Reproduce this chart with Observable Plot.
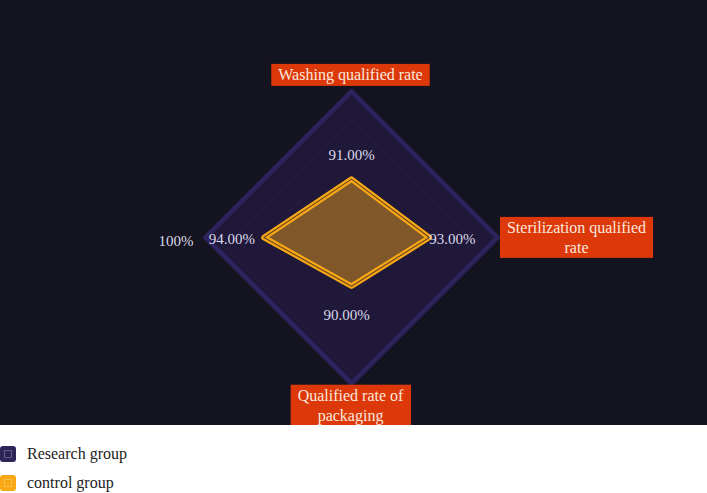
<!DOCTYPE html>
<html>
<head>
<meta charset="utf-8">
<script src="https://cdn.jsdelivr.net/npm/d3@7"></script>
<script src="https://cdn.jsdelivr.net/npm/@observablehq/plot@0.6"></script>
<style>
  html, body { margin: 0; padding: 0; background: #ffffff; }
  #chart { width: 707px; height: 425px; background: #13141f; overflow: hidden; }
  #chart svg, #chart text { font-family: "Liberation Serif", "DejaVu Serif", serif !important; }
  #legend { font-family: "Liberation Serif", "DejaVu Serif", serif; font-size: 16px; color: #222; padding-top: 14px; }
  .item { display: flex; align-items: center; height: 29px; }
  .sw { width: 16px; height: 16px; border-radius: 3px; margin-right: 11px; position: relative; }
  .sw::after { content: ""; position: absolute; left: 4px; top: 4px; width: 6px; height: 6px; border: 1px solid rgba(255,255,255,0.25); }
</style>
</head>
<body>
<div id="chart"></div>
<div id="legend"></div>
<script>
// ---- data ----
const indicators = ["Washing qualified rate", "Sterilization qualified rate", "Qualified rate of packaging", "100%"];
const indicatorLabels = ["Washing qualified rate", "Sterilization qualified\nrate", "Qualified rate of\npackaging", "100%"];
const seriesNames = ["Research group", "control group"];
const researchValues = [100, 100, 100, 100];
const controlValues = [91, 93, 90, 94];
const valueLabels = ["91.00%", "93.00%", "90.00%", "94.00%"];
const radialMin = 85;
const radialMax = 100;
const gridLevels = [0.2, 0.4, 0.6, 0.8];

// ---- geometry helpers (data -> unit radar coords) ----
const angle = i => (i / indicators.length) * 2 * Math.PI; // clockwise from top
const norm = v => (v - radialMin) / (radialMax - radialMin);
const px = (i, r) => r * Math.sin(angle(i));
const py = (i, r) => r * Math.cos(angle(i));

const research = indicators.map((k, i) => ({key: k, i, value: researchValues[i], series: seriesNames[0]}));
const control = indicators.map((k, i) => ({key: k, i, value: controlValues[i], label: valueLabels[i], series: seriesNames[1]}));
const grid = gridLevels.flatMap(l => indicators.map((k, i) => ({level: l, i})));
const axes = indicators.map((k, i) => ({key: k, i, label: indicatorLabels[i]}));

const R = 146, cx = 351, cy = 237;

const textStyle = {fontFamily: "Liberation Serif"};
const labelPlacement = [
  {dx: 0, dy: -24, textAnchor: "middle"},
  {dx: 0, dy: 2, textAnchor: "start"},
  {dx: -5, dy: 29, textAnchor: "middle"},
  {dx: -9, dy: 2, textAnchor: "end"}
];
const namePlacement = [
  {dx: -1, dy: -18, textAnchor: "middle", lineAnchor: "middle"},
  {dx: 79, dy: -1, textAnchor: "middle", lineAnchor: "middle"},
  {dx: -1, dy: 3, textAnchor: "middle", lineAnchor: "top"},
  {dx: -12, dy: 2, textAnchor: "end", lineAnchor: "middle", plain: true}
];

const chart = Plot.plot({
  width: 707,
  height: 425,
  margin: 0,
  x: {domain: [-1, 1], range: [cx - R, cx + R], axis: null},
  y: {domain: [-1, 1], range: [cy + R, cy - R], axis: null},
  style: {background: "#13141f", overflow: "hidden", fontFamily: "Liberation Serif"},
  marks: [
    // research group (outer) polygon
    Plot.line(research, {x: d => px(d.i, norm(d.value)), y: d => py(d.i, norm(d.value)), curve: "linear-closed",
      fill: "#1f1839", stroke: "#2c2259", strokeWidth: 5, strokeLinejoin: "round"}),
    Plot.line(research, {x: d => px(d.i, norm(d.value)), y: d => py(d.i, norm(d.value)), curve: "linear-closed",
      stroke: "#34296a", strokeWidth: 1, strokeOpacity: 0.8}),
    // faint grid
    Plot.line(grid, {x: d => px(d.i, d.level), y: d => py(d.i, d.level), z: "level", curve: "linear-closed",
      stroke: "#2a2048", strokeWidth: 1}),
    // control group polygon
    Plot.line(control, {x: d => px(d.i, norm(d.value)), y: d => py(d.i, norm(d.value)), curve: "linear-closed",
      fill: "#f5a516", fillOpacity: 0.45, stroke: "#f7a813", strokeWidth: 5.5, strokeLinejoin: "round"}),
    Plot.line(control, {x: d => px(d.i, norm(d.value)), y: d => py(d.i, norm(d.value)), curve: "linear-closed",
      stroke: "#6b4424", strokeWidth: 1.1}),
    // value labels
    ...control.map((d, j) => Plot.text([d], {x: d => px(d.i, norm(d.value)), y: d => py(d.i, norm(d.value)), text: "label",
      fill: "#dcd8ea", fontSize: 15, ...textStyle, ...labelPlacement[j]})),
    // indicator names
    ...axes.map((d, j) => Plot.text([d], {x: d => px(d.i, 1), y: d => py(d.i, 1), text: "label",
      fill: namePlacement[j].plain ? "#dcd8ea" : "#fbe9dc", fontSize: namePlacement[j].plain ? 15 : 16, lineHeight: 1.25,
      className: namePlacement[j].plain ? "plainname" : "boxname", ...textStyle,
      dx: namePlacement[j].dx, dy: namePlacement[j].dy, textAnchor: namePlacement[j].textAnchor, lineAnchor: namePlacement[j].lineAnchor}))
  ]
});

document.getElementById("chart").appendChild(chart);

// background boxes for indicator names
chart.querySelectorAll("g.boxname text").forEach(t => {
  const b = t.getBBox();
  const padX = 7, padY = 2;
  const rect = document.createElementNS("http://www.w3.org/2000/svg", "rect");
  rect.setAttribute("x", b.x - padX);
  rect.setAttribute("y", b.y - padY);
  rect.setAttribute("width", b.width + 2 * padX);
  rect.setAttribute("height", b.height + 2 * padY);
  rect.setAttribute("fill", "#dc380a");
  const tr = t.getAttribute("transform");
  if (tr) rect.setAttribute("transform", tr);
  t.parentNode.insertBefore(rect, t);
});

// legend
const legendColors = ["#2e2458", "#f7a813"];
const legend = document.getElementById("legend");
seriesNames.forEach((name, i) => {
  const item = document.createElement("div");
  item.className = "item";
  const sw = document.createElement("span");
  sw.className = "sw";
  sw.style.background = legendColors[i];
  const label = document.createElement("span");
  label.textContent = name;
  item.appendChild(sw);
  item.appendChild(label);
  legend.appendChild(item);
});
</script>
</body>
</html>
